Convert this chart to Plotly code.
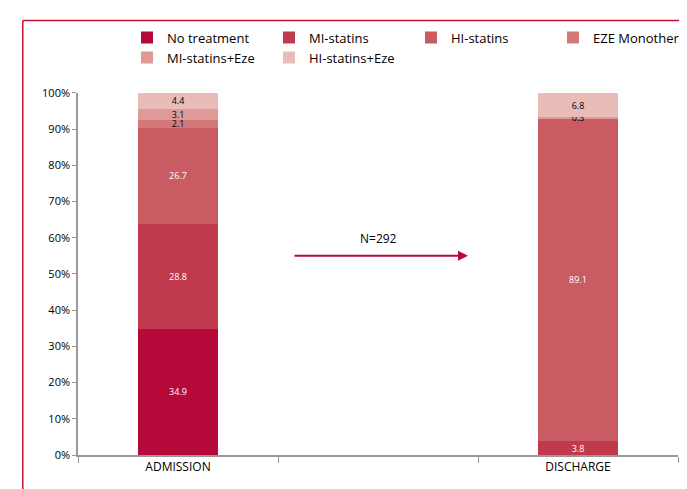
import plotly.graph_objects as go

stages = ["ADMISSION", "DISCHARGE"]
stage_pos = [0.5, 2.5]
series = ["No treatment", "MI-statins", "HI-statins",
          "EZE Monotherapy", "MI-statins+Eze", "HI-statins+Eze"]
admission = [34.9, 28.8, 26.7, 2.1, 3.1, 4.4]
discharge = [0.0, 3.8, 89.1, 0.0, 0.3, 6.8]
colors = ["#B5093A", "#C0394D", "#C85C62", "#D37A78", "#DE9A96", "#E9BCBA"]
text_colors = ["white", "white", "white", "black", "black", "black"]
y_ticks = list(range(0, 101, 10))

fig = go.Figure()
for i, name in enumerate(series):
    vals = [admission[i], discharge[i]]
    labels = [f"{v:.1f}" if v > 0 else "" for v in vals]
    fig.add_trace(go.Bar(
        x=stage_pos, y=vals, name=name, width=0.4,
        marker=dict(color=colors[i], line=dict(width=0)),
        text=labels, textposition="inside", insidetextanchor="middle",
        textangle=0, textfont=dict(size=9, color=text_colors[i]),
        constraintext="none",
    ))

fig.add_annotation(x=1.95, y=55, ax=1.075, ay=55, xref="x", yref="y",
                   axref="x", ayref="y", text="", showarrow=True,
                   arrowhead=2, arrowsize=1, arrowwidth=2, arrowcolor="#B5093A")
fig.add_annotation(x=1.5, y=57, xref="x", yref="y", text="N=292",
                   showarrow=False, yanchor="bottom", font=dict(size=12, color="black"))

fig.add_shape(type="line", xref="paper", yref="paper", x0=-0.092, x1=-0.092,
              y0=-0.12, y1=1.2, line=dict(color="#C8102E", width=1.5))
fig.add_shape(type="line", xref="paper", yref="paper", x0=-0.092, x1=1.03,
              y0=1.2, y1=1.2, line=dict(color="#C8102E", width=1.5))

fig.update_layout(
    barmode="stack", width=687, height=489,
    margin=dict(l=70, r=17, t=77, b=42),
    plot_bgcolor="white", paper_bgcolor="white",
    font=dict(family="Open Sans", size=12, color="black"),
    showlegend=True,
    legend=dict(orientation="h", x=0.13, y=0.97, xref="paper", yref="container",
                xanchor="left", yanchor="top",
                entrywidth=97, entrywidthmode="pixels", traceorder="normal",
                font=dict(size=13), itemsizing="constant", tracegroupgap=0),
    xaxis=dict(range=[0, 3], tickvals=stage_pos, ticktext=stages, ticks="",
               showgrid=False, showline=True, linecolor="#999", linewidth=1.5,
               zeroline=False, tickfont=dict(size=12),
               minor=dict(tickvals=[0, 1, 2, 3], ticks="outside", ticklen=6,
                          tickcolor="#999", showgrid=False)),
    yaxis=dict(range=[0, 100], tickvals=y_ticks,
               ticktext=[f"{v}%" for v in y_ticks], ticks="outside", ticklen=4,
               tickcolor="#999", showgrid=False, showline=True, linecolor="#999",
               linewidth=1.5, zeroline=False, tickfont=dict(size=11)),
)

fig.write_html("out.html")
